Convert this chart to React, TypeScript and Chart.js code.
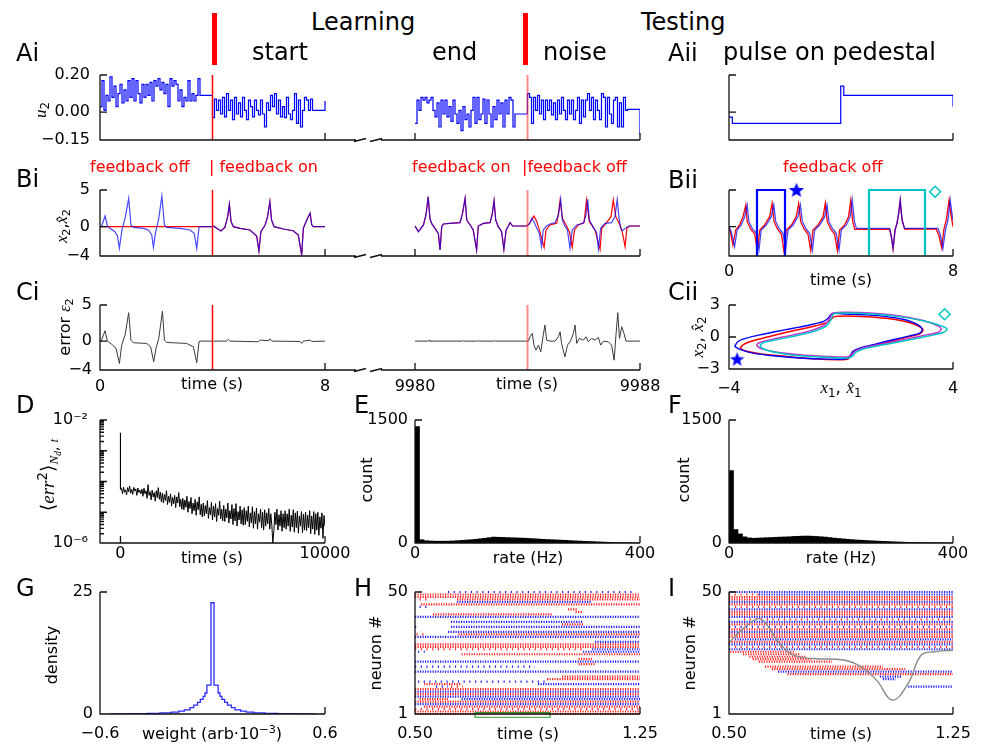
import React, { useEffect, useRef } from 'react';
import { Chart, registerables } from 'chart.js';

Chart.register(...registerables);

const SANS = "'DejaVu Sans', Verdana, sans-serif";
const SERIF = "'Liberation Serif', 'DejaVu Serif', serif";
const BLUE = '#0000ff';
const BLUE_T = 'rgba(0,0,255,0.72)';
const RED = '#ff0000';
const PINK = 'rgba(255,60,60,0.6)';
const CYAN = '#00c4c4';
const MAGENTA = '#c030d0';

// broken time axis: t=9980 s is drawn at 11.2 on the compressed axis
const GAP = 11.2;
const U2_DT = 0.0711;

// ---------------- Ai: u2 (piecewise constant input) ----------------
const u2LearnStartOff = [0.03, 0.17, 0.01, 0.09, 0.06, 0.19, 0.08, 0.14, 0.03, 0.1, 0.15, 0.05, 0.12, 0.06, 0.17, 0.08, 0.18, 0.06, 0.17, 0.1, 0.05, 0.15, 0.08, 0.15, 0.09, 0.16, 0.06, 0.17, 0.14, 0.18, 0.12, 0.16, 0.1, 0.15, 0.03, 0.18, 0.14, 0.17, 0.15, 0.06, 0.12, 0.03, 0.08, 0.06, 0.17, 0.06, 0.1, 0.06, 0.09, 0.18];
const u2LearnStartOn = [-0.03, 0.07, 0.01, 0.065, -0.01, 0.08, -0.025, 0.1, 0.01, 0.065, -0.04, 0.08, -0.01, 0.05, -0.025, 0.08, 0.01, -0.04, 0.065, 0.03, -0.025, 0.065, 0.01, -0.015, 0.065, -0.01, -0.08, 0.05, 0.01, 0.09, 0.03, 0.1, -0.01, 0.065, -0.025, 0.03, -0.03, 0.08, -0.01, -0.04, 0.01, 0.1, -0.06, 0.065, -0.08, 0.01, 0.08, 0.065, 0.01, 0.07];
const u2LearnEnd = [-0.06, 0.065, 0.01, 0.08, 0.065, 0.08, 0.05, 0.065, 0.08, 0.01, -0.025, 0.05, -0.08, 0.065, -0.01, 0.065, -0.025, 0.03, -0.05, 0.065, -0.01, -0.06, 0.01, -0.1, 0.03, -0.04, -0.01, -0.08, 0.01, 0.08, -0.06, 0.08, -0.04, -0.01, 0.07, -0.06, 0.065, -0.01, -0.08, 0.03, -0.04, 0.065, -0.01, 0.05, -0.08, 0.065, -0.01, 0.08, 0.065, -0.08];
const u2TestNoise = [0.1, 0.08, -0.06, 0.08, 0.01, 0.09, -0.01, 0.065, -0.04, 0.065, 0.01, 0.065, -0.015, 0.05, -0.04, 0.065, -0.01, 0.08, 0.01, -0.04, 0.065, -0.01, 0.065, -0.04, 0.01, 0.08, -0.06, 0.065, -0.025, 0.065, 0.1, 0.01, 0.08, -0.04, 0.065, 0.01, -0.04, 0.1, 0.08, -0.08, 0.08, -0.01, -0.06, 0.065, 0.08, -0.08, 0.05, -0.08, 0.08, 0.01];
// hold values after each noisy stretch: [holdStart, holdEnd, value]
const u2Holds = [
  [3.555, 4.0, 0.09],
  [7.555, 8.0, 0.01],
  [3.555, 4.0, -0.01],
  [7.555, 8.0, 0.015],
];
const u2EndValues = [0.06, -0.12];
// Aii: pulse on pedestal
const u2PedT = [0, 0.12, 3.99, 4.1, 8.0, 8.0];
const u2PedV = [-0.027, -0.06, 0.14, 0.09, 0.09, 0.03];

// ---------------- Bi: x2 (blue) and estimate (red) ----------------
const x2LearnStartOff = [[0, 0], [0.06, 0.09], [0.18, 1.45], [0.27, 0], [0.41, -0.36], [0.53, -0.68], [0.62, -1.27], [0.69, -2.95], [0.78, -0.45], [0.89, 1.14], [1.02, 3.86], [1.1, 0.23], [1.19, -0.09], [1.54, -0.23], [1.72, -0.45], [1.84, -1.14], [1.9, -2.82], [1.97, -0.91], [2.09, 1.14], [2.2, 4.18], [2.29, 0.23], [2.37, -0.09], [2.84, -0.23], [3.2, -0.45], [3.35, -0.91], [3.44, -2.95], [3.52, -0.09], [3.56, 0], [4.0, 0]];
const x2hatLearnStartOff = [[0, 0], [4.0, 0]];
const x2LearnStartOn = [[4.0, 0.05], [4.03, 0.09], [4.15, -0.23], [4.3, -0.59], [4.44, -0.09], [4.54, 1.36], [4.6, 3.05], [4.66, 0.68], [4.74, 0], [4.98, -0.23], [5.33, -0.45], [5.57, -1.27], [5.65, -3.32], [5.72, -0.68], [5.87, 0.23], [5.96, 1.36], [6.04, 3.41], [6.1, 0.91], [6.19, 0], [6.52, -0.32], [6.87, -0.55], [7.05, -1.14], [7.17, -3.86], [7.23, -0.23], [7.35, 0.91], [7.47, 1.82], [7.53, 0.23], [7.59, 0], [8.0, 0]];
// times below are seconds after 9980 s
const x2LearnEnd = [[0, 0.09], [0.12, -0.68], [0.3, 0.23], [0.39, 1.59], [0.47, 4.09], [0.53, 1.14], [0.59, 0.45], [0.71, -0.23], [0.83, -0.91], [0.89, -3.18], [0.95, 0], [1.01, 0.36], [1.24, 0.45], [1.6, 0.55], [1.69, 1.82], [1.78, 3.86], [1.84, 0.91], [1.96, 0.23], [2.07, -0.45], [2.19, -3.18], [2.25, 0.09], [2.43, 0.45], [2.67, 0.55], [2.75, 1.82], [2.81, 3.55], [2.87, 0.91], [2.96, 0], [3.08, -0.68], [3.16, -3.09], [3.24, -0.45], [3.32, 0.09], [3.38, 0.55], [3.47, 0.09], [3.97, 0.09]];
const x2TestNoise = [[3.97, 0.09], [4.07, 0.36], [4.15, 1.14], [4.23, 0.68], [4.33, -0.23], [4.42, -0.91], [4.5, -2.73], [4.56, -0.45], [4.68, 0.09], [4.8, 0.36], [4.98, 0.55], [5.1, 1.59], [5.18, 3.73], [5.24, 0.91], [5.33, 0.09], [5.42, -0.45], [5.51, -2.95], [5.59, -0.45], [5.75, 0.23], [5.99, 0.45], [6.08, 1.59], [6.14, 3.73], [6.2, 0.91], [6.34, -0.09], [6.46, -0.82], [6.52, -3.09], [6.6, -0.23], [6.76, 0.45], [6.99, 0.55], [7.11, 1.36], [7.19, 3.73], [7.25, 1.36], [7.31, -0.23], [7.38, -0.55], [7.47, -0.23], [7.59, 0.09], [8.0, 0.09]];
const x2hatTestNoise = [[3.97, 0.09], [4.07, 0.45], [4.23, 1.45], [4.33, 0.68], [4.44, -0.68], [4.59, -2.82], [4.66, -0.45], [4.8, 0.23], [5.04, 0.45], [5.1, 1.82], [5.16, 3.64], [5.24, 1.14], [5.37, 0.23], [5.49, -0.68], [5.59, -2.82], [5.67, -0.45], [5.81, 0.23], [6.01, 0.55], [6.1, 3.64], [6.2, 0.68], [6.4, -0.45], [6.58, -3.09], [6.64, -0.23], [6.81, 0.55], [6.97, 1.36], [7.05, 3.64], [7.14, 1.36], [7.29, 0.23], [7.38, -0.91], [7.47, -2.73], [7.53, -0.23], [7.64, 0.09], [8.0, 0.09]];

// ---------------- Ci: error e2 ----------------
const e2Start = [[0, 0], [0.04, 0], [0.18, 1.44], [0.26, 0], [0.41, -0.42], [0.57, -1.0], [0.69, -3.1], [0.77, -0.56], [0.89, 0.83], [1.02, 3.94], [1.1, 0.14], [1.19, -0.23], [1.66, -0.32], [1.8, -0.79], [1.91, -2.87], [1.99, -1.0], [2.09, 0.37], [2.22, 4.17], [2.29, 0.14], [2.37, -0.19], [3.08, -0.32], [3.32, -0.79], [3.44, -3.0], [3.52, -0.09], [3.56, 0], [4.03, 0], [4.5, 0], [4.56, 0.23], [4.62, 0], [5.63, -0.09], [5.69, 0.14], [5.99, 0.05], [6.04, 0.32], [6.1, 0], [7.11, -0.05], [7.17, -0.32], [7.23, 0], [7.47, 0.14], [7.53, -0.05], [8.0, 0]];
const e2End = [[0, 0], [0.47, 0], [0.5, 0.12], [0.53, 0], [1.7, 0], [1.73, 0.06], [1.76, 0], [2.2, 0], [2.23, 0.06], [2.26, 0], [2.8, 0], [2.83, 0.06], [2.86, 0], [3.97, 0], [4.03, 0], [4.09, 0.6], [4.17, 1.06], [4.23, -0.56], [4.3, -1.25], [4.39, -0.56], [4.47, -1.48], [4.56, 0.83], [4.62, 2.22], [4.68, 0.14], [4.8, 0], [4.98, 0], [5.1, 0.6], [5.16, 1.3], [5.21, -0.32], [5.33, -2.18], [5.42, -0.56], [5.53, 0], [5.63, 1.06], [5.69, 2.22], [5.75, -0.32], [5.84, 0.37], [5.99, 0.14], [6.08, 0.6], [6.16, -0.09], [6.28, 0.37], [6.4, 0.14], [6.52, 0.51], [6.6, -0.56], [6.7, 0], [6.87, -0.09], [6.99, -0.56], [7.08, -2.64], [7.15, 1.06], [7.21, 3.94], [7.27, 0.37], [7.35, 1.99], [7.43, 1.06], [7.5, 0], [8.0, 0]];

// ---------------- Bii: pulse on pedestal, feedback off ----------------
const x2Ped = [[0, 0], [0.08, -0.68], [0.2, -2.73], [0.29, -0.45], [0.44, 0.23], [0.56, 1.36], [0.65, 2.95], [0.71, 0.68], [0.83, -0.23], [0.98, -0.91], [1.07, -3.18], [1.15, -0.45], [1.33, 0.23], [1.51, 1.36], [1.6, 2.95], [1.67, 0.68], [1.79, -0.23], [1.93, -0.91], [2.02, -3.18], [2.11, -0.45], [2.29, 0.23], [2.46, 1.36], [2.55, 2.95], [2.62, 0.68], [2.74, -0.23], [2.88, -0.91], [2.98, -3.18], [3.06, -0.45], [3.24, 0.23], [3.42, 1.36], [3.5, 2.95], [3.57, 0.68], [3.69, -0.23], [3.83, -0.91], [3.93, -3.18], [4.01, -0.45], [4.19, 0.23], [4.33, 1.36], [4.4, 3.64], [4.48, 0.68], [4.55, -0.23], [5.74, -0.23], [5.8, -1.36], [5.86, -2.95], [5.93, -0.45], [6.0, 0.45], [6.06, 1.82], [6.12, 3.64], [6.18, 0.91], [6.27, -0.23], [7.46, -0.23], [7.55, -1.14], [7.64, -2.95], [7.73, -0.45], [7.82, 0.91], [7.9, 3.64], [7.96, 1.82], [8.0, 0.91]];
const x2hatPed = [[0, 0], [0.06, -0.91], [0.14, -2.5], [0.24, -0.45], [0.38, 0.23], [0.5, 1.36], [0.6, 2.95], [0.65, 0.68], [0.77, -0.32], [0.92, -1.0], [1.01, -3.27], [1.1, -0.45], [1.27, 0.23], [1.45, 1.36], [1.54, 3.18], [1.61, 0.68], [1.73, -0.32], [1.87, -1.0], [1.96, -3.27], [2.05, -0.45], [2.23, 0.23], [2.4, 1.36], [2.49, 3.18], [2.56, 0.68], [2.68, -0.32], [2.82, -1.0], [2.92, -3.27], [3.0, -0.45], [3.18, 0.23], [3.36, 1.36], [3.44, 3.18], [3.51, 0.68], [3.63, -0.32], [3.77, -1.0], [3.87, -3.27], [3.95, -0.45], [4.13, 0.23], [4.27, 1.36], [4.35, 3.64], [4.42, 0.68], [4.49, -0.36], [5.74, -0.36], [5.8, -1.45], [5.86, -3.05], [5.93, -0.45], [6.0, 0.45], [6.06, 1.82], [6.11, 3.55], [6.18, 0.91], [6.27, -0.32], [7.4, -0.32], [7.5, -1.27], [7.6, -2.95], [7.67, -0.45], [7.76, 0.91], [7.86, 3.64], [7.92, 1.82], [8.0, 0]];
const pedWindowStar = [1.0, 2.0];
const pedWindowDiamond = [5.0, 7.0];
const starMarkB = [2.41, 5.0];
const diamondMarkB = [7.36, 4.77];

// ---------------- Cii: phase plane loops ----------------
const loopBlue = [[-3.8, -0.89], [-3.68, -0.42], [-3.38, -0.11], [-2.9, 0.2], [-2.31, 0.51], [-1.71, 0.82], [-1.12, 1.13], [-0.64, 1.45], [-0.46, 1.76], [-0.35, 2.13], [-0.23, 2.22], [0.19, 2.16], [0.9, 2.07], [1.62, 1.91], [2.21, 1.66], [2.69, 1.23], [2.9, 0.73], [2.81, 0.36], [2.45, 0.11], [1.86, -0.26], [1.26, -0.64], [0.67, -1.04], [0.43, -1.35], [0.31, -1.82], [0.19, -2.04], [-0.52, -2.07], [-1.48, -1.97], [-2.43, -1.76], [-3.14, -1.51], [-3.56, -1.2], [-3.8, -0.89]];
const loopRed = [[-3.6, -1.04], [-3.5, -0.73], [-3.14, -0.36], [-2.55, 0.05], [-1.71, 0.58], [-1.0, 0.98], [-0.52, 1.35], [-0.35, 1.66], [-0.23, 1.91], [0.19, 1.97], [0.9, 1.91], [1.62, 1.76], [2.21, 1.51], [2.69, 1.13], [2.93, 0.67], [2.81, 0.3], [2.45, 0.05], [1.86, -0.36], [1.14, -0.79], [0.55, -1.2], [0.37, -1.66], [0.25, -2.07], [-0.05, -2.13], [-1.0, -2.04], [-1.95, -1.82], [-2.9, -1.57], [-3.44, -1.29], [-3.6, -1.04]];
const loopMagenta = [[-3.02, -0.73], [-2.9, -0.51], [-2.43, -0.2], [-1.71, 0.2], [-1.0, 0.67], [-0.58, 1.13], [-0.4, 1.76], [-0.29, 2.22], [0.19, 2.32], [1.14, 2.22], [2.1, 1.97], [2.93, 1.54], [3.46, 1.04], [3.58, 0.73], [3.46, 0.42], [3.05, 0.2], [2.33, -0.2], [1.5, -0.64], [0.79, -1.04], [0.49, -1.35], [0.33, -1.76], [0.19, -1.88], [-0.52, -1.82], [-1.48, -1.66], [-2.43, -1.35], [-2.9, -1.04], [-3.02, -0.73]];
const loopCyan = [[-2.9, -0.79], [-2.76, -0.51], [-2.31, -0.26], [-1.6, 0.11], [-0.88, 0.61], [-0.52, 1.04], [-0.35, 1.66], [-0.26, 2.16], [0.19, 2.25], [1.14, 2.16], [2.1, 1.91], [3.05, 1.45], [3.58, 1.04], [3.79, 0.73], [3.64, 0.42], [3.17, 0.11], [2.33, -0.33], [1.5, -0.73], [0.79, -1.13], [0.52, -1.45], [0.4, -1.82], [0.25, -1.97], [-0.52, -1.91], [-1.48, -1.76], [-2.31, -1.45], [-2.79, -1.1], [-2.9, -0.79]];
const starMarkC = [-3.71, -2.07];
const diamondMarkC = [3.7, 2.13];

// ---------------- D: mean squared error, log10 values, one every 50 s ----------------
const errSpike = [[0, -2.42], [0, -4.25]];
const errStep = 50;
const errLog = [
  -4.22, -4.40, -4.18, -4.35, -4.27, -4.44, -4.20, -4.33, -4.15, -4.38, -4.26, -4.42, -4.19, -4.31, -4.24, -4.45, -4.21, -4.36, -4.28, -4.40,
  -4.25, -4.48, -4.22, -4.40, -4.30, -4.55, -4.10, -4.45, -4.33, -4.60, -4.28, -4.50, -4.36, -4.64, -4.30, -4.52, -4.20, -4.58, -4.35, -4.66,
  -4.38, -4.70, -4.42, -4.62, -4.30, -4.75, -4.48, -4.68, -4.40, -4.80, -4.52, -4.72, -4.45, -4.85, -4.50, -4.70, -4.36, -4.82, -4.58, -4.90,
  -4.55, -4.92, -4.60, -4.84, -4.48, -5.00, -4.65, -4.88, -4.52, -5.05, -4.70, -4.95, -4.58, -5.10, -4.66, -4.92, -4.50, -5.08, -4.74, -5.15,
  -4.70, -5.12, -4.78, -5.05, -4.62, -5.20, -4.85, -5.08, -4.68, -5.25, -4.80, -5.15, -4.72, -5.30, -4.88, -5.10, -4.64, -5.22, -4.90, -5.28,
  -4.78, -5.30, -4.90, -5.18, -4.70, -5.35, -4.95, -5.22, -4.75, -5.40, -4.88, -5.28, -4.72, -5.45, -4.98, -5.25, -4.80, -5.38, -4.92, -5.42,
  -4.85, -5.40, -4.95, -5.30, -4.80, -5.48, -5.02, -5.35, -4.82, -5.52, -4.98, -5.38, -4.86, -5.55, -5.05, -5.32, -4.90, -5.50, -5.00, -5.58,
  -4.92, -5.45, -5.02, -5.38, -4.88, -5.55, -5.05, -5.42, -6.00, -5.60, -5.00, -5.40, -4.90, -5.58, -5.08, -5.45, -4.95, -5.62, -5.05, -5.50,
  -4.95, -5.55, -5.05, -5.45, -4.90, -5.62, -5.10, -5.48, -4.92, -5.65, -5.02, -5.50, -4.96, -5.68, -5.12, -5.45, -4.98, -5.66, -5.06, -5.58,
  -5.00, -5.60, -5.10, -5.50, -4.95, -5.70, -5.12, -5.55, -4.98, -5.72, -5.05, -5.58, -5.00, -5.75, -5.15, -5.52, -5.02, -5.85, -5.10, -5.45,
];

// ---------------- E, F: firing-rate histograms (8 Hz bins) ----------------
const rateBinCenters = [4, 12, 20, 28, 36, 44, 52, 60, 68, 76, 84, 92, 100, 108, 116, 124, 132, 140, 148, 156, 164, 172, 180, 188, 196, 204, 212, 220, 228, 236, 244, 252, 260, 268, 276, 284, 292, 300, 308, 316, 324, 332, 340, 348, 356, 364, 372, 380, 388, 396];
const rateCountsLearn = [1420, 40, 28, 24, 22, 22, 22, 23, 25, 28, 32, 36, 40, 45, 52, 58, 65, 72, 70, 68, 66, 64, 62, 60, 58, 55, 52, 48, 45, 42, 40, 37, 35, 32, 29, 26, 24, 21, 19, 17, 14, 12, 10, 8, 6, 5, 4, 3, 2, 1];
const rateCountsTest = [883, 164, 111, 75, 62, 58, 60, 62, 65, 67, 70, 72, 74, 76, 80, 82, 84, 85, 83, 80, 76, 72, 66, 60, 55, 50, 45, 41, 37, 34, 31, 28, 25, 22, 20, 18, 15, 13, 11, 9, 7, 6, 5, 4, 3, 2, 2, 1, 1, 0];

// ---------------- G: weight density (step histogram) ----------------
const weightEdges = [-0.55, -0.45, -0.35, -0.28, -0.22, -0.18, -0.15, -0.12, -0.1, -0.08, -0.065, -0.05, -0.04, -0.03, -0.008, 0.008, 0.03, 0.04, 0.05, 0.065, 0.08, 0.1, 0.12, 0.15, 0.18, 0.22, 0.28, 0.35, 0.45, 0.55];
const weightDensity = [0.03, 0.06, 0.12, 0.25, 0.4, 0.6, 0.85, 1.3, 1.8, 2.4, 3.0, 3.6, 4.3, 5.9, 22.8, 5.9, 4.3, 3.6, 3.0, 2.4, 1.8, 1.3, 0.85, 0.6, 0.4, 0.25, 0.12, 0.06, 0.03, 0.03];

// ---------------- H, I: spike rasters [neuron, tStart, tEnd, blue?, dense?] ----------------
const rasterLearn = [
  [50, 0.61, 1.23, 1, 0], [49, 0.5, 1.25, 0, 1], [48, 0.5, 1.25, 0, 1], [47, 0.515, 0.54, 0, 0], [47, 0.64, 1.25, 0, 1],
  [46, 0.64, 1.09, 1, 1], [45, 0.52, 1.25, 0, 1], [44, 0.515, 0.54, 1, 0], [43, 1.01, 1.04, 0, 1], [42, 1.035, 1.06, 0, 1],
  [41, 0.56, 0.96, 0, 1], [40, 0.5, 1.25, 1, 1], [38, 0.62, 1.06, 1, 1], [37, 0.99, 1.06, 0, 1], [36, 0.5, 0.515, 1, 0],
  [36, 0.62, 1.25, 1, 1], [34, 0.61, 1.25, 1, 1], [33, 0.505, 0.535, 0, 0], [33, 0.645, 1.25, 0, 1], [32, 0.5, 1.25, 1, 1],
  [30, 1.1, 1.25, 1, 1], [29, 0.5, 1.25, 0, 1], [28, 0.5, 1.25, 0, 1], [27, 0.5, 1.06, 0, 0], [27, 1.09, 1.25, 1, 1],
  [26, 0.51, 0.535, 1, 0], [26, 1.06, 1.25, 1, 1], [25, 0.655, 1.25, 0, 1], [23, 1.045, 1.09, 0, 1], [22, 0.5, 1.25, 1, 1],
  [21, 1.045, 1.1, 0, 1], [20, 0.5, 0.9, 1, 0], [18, 0.5, 1.25, 1, 1], [16, 0.99, 1.25, 0, 1], [15, 0.94, 1.25, 0, 1],
  [14, 0.51, 0.94, 1, 0], [13, 0.53, 0.655, 0, 1], [13, 0.91, 1.25, 1, 1], [12, 0.57, 0.61, 1, 0], [12, 0.62, 0.66, 0, 0],
  [11, 0.5, 1.25, 0, 1], [10, 0.5, 1.25, 1, 1], [9, 0.5, 1.25, 0, 1], [8, 0.5, 1.25, 1, 1], [7, 0.515, 0.61, 0, 1],
  [7, 0.655, 1.25, 1, 1], [6, 0.5, 1.25, 0, 1], [5, 0.5, 1.25, 1, 1], [4, 0.53, 1.25, 0, 1], [3, 0.5, 1.25, 0, 0],
  [2, 0.5, 1.25, 0, 1], [1, 0.5, 1.25, 0, 1],
];
const rasterTest = [
  [50, 0.5, 1.25, 1, 1], [49, 0.5, 0.6, 0, 0], [49, 0.6, 1.25, 1, 1], [48, 0.5, 1.25, 0, 1], [47, 0.5, 1.25, 0, 1],
  [46, 0.5, 1.25, 1, 1], [45, 0.5, 1.25, 0, 1], [44, 0.52, 1.25, 0, 0], [43, 0.5, 1.25, 1, 1], [42, 0.5, 1.25, 0, 1],
  [41, 0.5, 1.25, 0, 1], [40, 0.5, 1.25, 1, 1], [39, 0.55, 1.25, 0, 0], [38, 0.5, 1.25, 1, 1], [37, 0.5, 1.25, 0, 1],
  [36, 0.5, 1.25, 1, 0], [35, 0.5, 1.25, 0, 1], [34, 0.5, 1.25, 1, 1], [33, 0.5, 1.25, 0, 1], [32, 0.5, 1.25, 0, 1],
  [31, 0.52, 1.25, 1, 1], [30, 0.5, 1.25, 0, 1], [29, 0.5, 1.25, 1, 1], [28, 0.52, 1.25, 0, 0], [27, 0.5, 1.25, 1, 1],
  [26, 0.504, 0.717, 0, 1], [25, 0.547, 0.74, 0, 1], [24, 0.568, 0.76, 0, 1], [23, 0.579, 0.78, 0, 1], [22, 0.6, 0.845, 0, 1],
  [20, 0.62, 1.015, 0, 1], [19, 0.643, 1.09, 0, 1], [18, 0.664, 1.25, 1, 1], [17, 0.696, 1.25, 0, 1], [16, 1.005, 1.08, 1, 1],
  [15, 1.015, 1.058, 1, 1], [12, 1.1, 1.25, 1, 1],
];
// I: test input overlaid (gray), in raster coordinates
const inputOverlay = [[0.504, 30.0], [0.547, 35.3], [0.6, 39.3], [0.632, 36.0], [0.664, 30.0], [0.717, 24.6], [0.781, 23.3], [0.888, 22.6], [0.941, 20.0], [0.994, 14.6], [1.047, 6.6], [1.1, 13.3], [1.143, 24.6], [1.186, 26.0], [1.25, 26.6]];
const zoomWindow = [0.7, 0.95, -0.3, 1.6];

// ================= helpers =================
const P = (arr: number[][], off = 0) => arr.map(([x, y]) => ({ x: x + off, y }));
const stepPts = (t0: number, vals: number[], off = 0) => vals.map((v, i) => ({ x: off + t0 + i * U2_DT, y: v }));
const ln = (data: any[], color: string, w = 1.2, extra: any = {}) => ({
  data, showLine: true, borderColor: color, backgroundColor: color, borderWidth: w,
  pointRadius: 0, pointHoverRadius: 0, tension: 0, fill: false, ...extra,
});
const vline = (x: number, y0: number, y1: number, color: string, w: number) => ln([{ x, y: y0 }, { x, y: y1 }], color, w, { order: -1 });

function starImage(size: number, color: string) {
  const c = document.createElement('canvas');
  c.width = size; c.height = size;
  const g = c.getContext('2d')!;
  g.fillStyle = color;
  g.beginPath();
  for (let i = 0; i < 10; i++) {
    const a = -Math.PI / 2 + (i * Math.PI) / 5;
    const rr = i % 2 === 0 ? size / 2 : size / 4.6;
    g.lineTo(size / 2 + rr * Math.cos(a), size / 2 + rr * Math.sin(a) + size * 0.04);
  }
  g.closePath();
  g.fill();
  return c;
}
const marker = (pt: number[], style: any, color: string, r: number) => ({
  data: [{ x: pt[0], y: pt[1] }], showLine: false, pointStyle: style, pointRadius: r,
  borderColor: color, backgroundColor: style === 'rectRot' ? 'rgba(255,255,255,0)' : color,
  pointBorderWidth: 1.5, clip: false, order: -2,
});
const rasterSets = (rows: number[][]) => rows.map(([n, a, b, blue, dense]) =>
  ln([{ x: a, y: n }, { x: b, y: n }], blue ? '#2222ff' : '#ff2222', 2.2, { borderDash: dense ? [1.2, 1.3] : [1.2, 4.5], clip: false }));

type Axis = { min: number; max: number; ticks: number[]; labels?: string[]; deco?: number[]; minor?: number[]; log?: boolean; pad?: number };
type PanelDef = { rect: number[]; x: Axis; y: Axis; datasets: () => any[]; type?: string; brk?: boolean };

const brokenTicks = [0, 8, GAP, GAP + 8];
const xBroken = (labels: boolean): Axis => ({ min: 0, max: GAP + 8, ticks: brokenTicks, labels: labels ? ['0', '8', '9980', '9988'] : undefined, deco: [8, GAP, GAP + 8], pad: 7 });
const xPed = (labels: boolean, pad = 6): Axis => ({ min: 0, max: 8, ticks: [0, 8], labels: labels ? ['0', '8'] : undefined, deco: [8], pad });
const yX2 = (labels: boolean, pad = 10): Axis => ({ min: -4, max: 5, ticks: [-4, 0, 5], labels: labels ? ['−4', '0', '5'] : undefined, deco: [0, 5], pad });

const minorLog: number[] = [];
for (let e = -6; e < -2; e++) for (let k = 2; k <= 9; k++) minorLog.push(k * Math.pow(10, e));

const u2Series = (a: number[], b: number[], h1: number[], h2: number[], endV: number, off: number) => [
  ...stepPts(0, a, off), { x: off + h1[0], y: h1[2] }, { x: off + h1[1], y: h1[2] },
  ...stepPts(4, b, off), { x: off + h2[0], y: h2[2] }, { x: off + h2[1], y: h2[2] }, { x: off + h2[1], y: endV },
];

const panels: PanelDef[] = [
  // Ai
  {
    rect: [100, 75, 640, 140], brk: true,
    x: xBroken(false),
    y: { min: -0.15, max: 0.2, ticks: [-0.15, 0, 0.2], labels: ['−0.15', '0.00', '0.20'], deco: [0, 0.2], pad: 10 },
    datasets: () => [
      ln(u2Series(u2LearnStartOff, u2LearnStartOn, u2Holds[0], u2Holds[1], u2EndValues[0], 0), BLUE, 1.2, { stepped: 'before' }),
      ln(u2Series(u2LearnEnd, u2TestNoise, u2Holds[2], u2Holds[3], u2EndValues[1], GAP), BLUE, 1.2, { stepped: 'before' }),
      vline(4, -0.15, 0.2, RED, 1.5),
      vline(GAP + 4, -0.15, 0.2, PINK, 2),
    ],
  },
  // Aii
  {
    rect: [729, 75, 953, 140],
    x: xPed(false),
    y: { min: -0.15, max: 0.2, ticks: [-0.15, 0, 0.2], deco: [0, 0.2] },
    datasets: () => [ln(u2PedT.map((t, i) => ({ x: t, y: u2PedV[i] })), BLUE, 1.2, { stepped: 'before' })],
  },
  // Bi
  {
    rect: [100, 190, 640, 256], brk: true,
    x: xBroken(false), y: yX2(true, 10),
    datasets: () => [
      ln([...P(x2LearnStartOff), ...P(x2LearnStartOn)], BLUE_T, 1.2, { order: 0 }),
      ln([...P(x2hatLearnStartOff), ...P(x2LearnStartOn)], RED, 1.2, { order: 1 }),
      ln([...P(x2LearnEnd, GAP), ...P(x2TestNoise, GAP)], BLUE_T, 1.2, { order: 0 }),
      ln([...P(x2LearnEnd, GAP), ...P(x2hatTestNoise, GAP)], RED, 1.2, { order: 1 }),
      vline(4, -4, 5, RED, 1.5),
      vline(GAP + 4, -4, 5, PINK, 2),
    ],
  },
  // Bii
  {
    rect: [729, 190, 953, 256],
    x: xPed(true, 6), y: yX2(false),
    datasets: () => [
      ln(P(x2Ped), BLUE_T, 1.3, { order: 0 }),
      ln(P(x2hatPed), RED, 1.3, { order: 1 }),
      ln([{ x: pedWindowStar[0], y: -4 }, { x: pedWindowStar[0], y: 5 }, { x: pedWindowStar[1], y: 5 }, { x: pedWindowStar[1], y: -4 }], BLUE, 2.2, { clip: false, order: -1 }),
      ln([{ x: pedWindowDiamond[0], y: -4 }, { x: pedWindowDiamond[0], y: 5 }, { x: pedWindowDiamond[1], y: 5 }, { x: pedWindowDiamond[1], y: -4 }], CYAN, 2.2, { clip: false, order: -1 }),
      marker(starMarkB, starImage(16, BLUE), BLUE, 8),
      marker(diamondMarkB, 'rectRot', CYAN, 5.5),
    ],
  },
  // Ci
  {
    rect: [100, 305, 640, 370], brk: true,
    x: xBroken(true), y: yX2(true, 8),
    datasets: () => [
      ln(P(e2Start), '#3a3a3a', 1.0),
      ln(P(e2End, GAP), '#3a3a3a', 1.0),
      vline(4, -4, 5, RED, 1.5),
      vline(GAP + 4, -4, 5, PINK, 2),
    ],
  },
  // Cii
  {
    rect: [729, 305, 953, 369],
    x: { min: -4, max: 4, ticks: [-4, 4], labels: ['−4', '4'], deco: [4], pad: 10 },
    y: { min: -3, max: 3, ticks: [-3, 0, 3], labels: ['−3', '0', '3'], deco: [0, 3], pad: 9 },
    datasets: () => [
      ln(P(loopCyan), CYAN, 1.5, { tension: 0.3 }),
      ln(P(loopMagenta), MAGENTA, 1.5, { tension: 0.3 }),
      ln(P(loopBlue), BLUE, 1.4, { tension: 0.3 }),
      ln(P(loopRed), RED, 1.5, { tension: 0.3 }),
      marker(starMarkC, starImage(15, BLUE), BLUE, 8),
      marker(diamondMarkC, 'rectRot', CYAN, 5.5),
    ],
  },
  // D
  {
    rect: [100, 420, 325, 543],
    x: { min: -1000, max: 10000, ticks: [0, 10000], labels: ['0', '10000'], deco: [0, 10000], pad: 1 },
    y: { log: true, min: 1e-6, max: 1e-2, ticks: [1e-6, 1e-2], labels: ['10⁻⁶', '10⁻²'], deco: [1e-6, 1e-5, 1e-4, 1e-3, 1e-2], minor: minorLog, pad: 12 },
    datasets: () => [ln([
      ...errSpike.map(([t, v]) => ({ x: t, y: Math.pow(10, v) })),
      ...errLog.map((v, i) => ({ x: (i + 1) * errStep, y: Math.pow(10, v) })),
    ], '#000', 1.0)],
  },
  // E
  {
    rect: [415, 420, 640, 543], type: 'bar',
    x: { min: 0, max: 400, ticks: [0, 400], labels: ['0', '400'], deco: [400], pad: 1 },
    y: { min: 0, max: 1500, ticks: [0, 1500], labels: ['0', '1500'], deco: [1500], pad: 7 },
    datasets: () => [{ data: rateBinCenters.map((c, i) => ({ x: c, y: rateCountsLearn[i] })), backgroundColor: '#000', borderWidth: 0, barPercentage: 1, categoryPercentage: 1 }],
  },
  // F
  {
    rect: [729, 420, 953, 543], type: 'bar',
    x: { min: 0, max: 400, ticks: [0, 400], labels: ['0', '400'], deco: [400], pad: 1 },
    y: { min: 0, max: 1500, ticks: [0, 1500], labels: ['0', '1500'], deco: [1500], pad: 7 },
    datasets: () => [{ data: rateBinCenters.map((c, i) => ({ x: c, y: rateCountsTest[i] })), backgroundColor: '#000', borderWidth: 0, barPercentage: 1, categoryPercentage: 1 }],
  },
  // G
  {
    rect: [100, 592, 325, 714],
    x: { min: -0.6, max: 0.6, ticks: [-0.6, 0.6], labels: ['−0.6', '0.6'], deco: [0.6], pad: 10 },
    y: { min: 0, max: 25, ticks: [0, 25], labels: ['0', '25'], deco: [25], pad: 7 },
    datasets: () => [ln(weightEdges.map((w, i) => ({ x: w, y: weightDensity[i] })), '#2a2aff', 1.3, { stepped: 'before' })],
  },
  // H
  {
    rect: [415, 592, 640, 714],
    x: { min: 0.5, max: 1.25, ticks: [0.5, 1.25], labels: ['0.50', '1.25'], deco: [1.25], pad: 10 },
    y: { min: 1, max: 50, ticks: [1, 50], labels: ['1', '50'], deco: [50], pad: 7 },
    datasets: () => [
      ...rasterSets(rasterLearn),
      ln([{ x: zoomWindow[0], y: zoomWindow[3] }, { x: zoomWindow[1], y: zoomWindow[3] }, { x: zoomWindow[1], y: zoomWindow[2] }, { x: zoomWindow[0], y: zoomWindow[2] }, { x: zoomWindow[0], y: zoomWindow[3] }], '#2e9a2e', 1.2, { clip: false, order: -1 }),
    ],
  },
  // I
  {
    rect: [729, 592, 953, 714],
    x: { min: 0.5, max: 1.25, ticks: [0.5, 1.25], labels: ['0.50', '1.25'], deco: [1.25], pad: 10 },
    y: { min: 1, max: 50, ticks: [1, 50], labels: ['1', '50'], deco: [50], pad: 7 },
    datasets: () => [
      ...rasterSets(rasterTest),
      ln(P(inputOverlay), '#8a8a8a', 1.4, { tension: 0.4, order: -1 }),
    ],
  },
];

function Panel({ def }: { def: PanelDef }) {
  const ref = useRef<HTMLCanvasElement | null>(null);
  const [l, t, r, b] = def.rect;
  const AXL = 72, AXB = 34, PT = 14, PR = 32;
  const W = r - l + AXL + PR;
  const H = b - t + PT + AXB;
  useEffect(() => {
    const canvas = ref.current;
    if (!canvas) return;
    const mkScale = (a: Axis, horizontal: boolean) => ({
      type: a.log ? 'logarithmic' : 'linear',
      min: a.min, max: a.max, offset: false,
      grid: { display: false, drawTicks: false },
      border: { display: false },
      afterBuildTicks: (s: any) => { s.ticks = a.ticks.map((v) => ({ value: v })); },
      afterFit: (s: any) => {
        if (horizontal) s.height = AXB; else s.width = AXL;
        s.paddingLeft = 0; s.paddingRight = 0; s.paddingTop = 0; s.paddingBottom = 0;
      },
      ticks: {
        display: !!a.labels, autoSkip: false, maxRotation: 0, minRotation: 0,
        padding: a.pad ?? 7, color: '#000', font: { family: SANS, size: 16 },
        callback: (_v: any, i: number) => (a.labels ? a.labels[i] : ''),
      },
    });
    const deco = {
      id: 'deco',
      afterDatasetsDraw(chart: any) {
        const { ctx, chartArea: ca, scales } = chart;
        const xs = scales.x, ys = scales.y;
        ctx.save();
        ctx.strokeStyle = '#111';
        ctx.lineWidth = 1.3;
        ctx.beginPath();
        ctx.moveTo(ca.left, ca.top); ctx.lineTo(ca.left, ca.bottom + 0.6);
        if (def.brk) {
          const x8 = xs.getPixelForValue(8);
          ctx.moveTo(ca.left, ca.bottom); ctx.lineTo(x8 + 31, ca.bottom);
          ctx.moveTo(x8 + 29, ca.bottom + 1.5); ctx.lineTo(x8 + 41, ca.bottom - 1.5);
          ctx.moveTo(x8 + 45, ca.bottom + 1.5); ctx.lineTo(x8 + 57, ca.bottom - 1.5);
          ctx.moveTo(x8 + 56, ca.bottom); ctx.lineTo(ca.right, ca.bottom);
        } else {
          ctx.moveTo(ca.left, ca.bottom); ctx.lineTo(ca.right, ca.bottom);
        }
        for (const v of def.x.deco ?? []) { const px = xs.getPixelForValue(v); ctx.moveTo(px, ca.bottom); ctx.lineTo(px, ca.bottom - 7); }
        for (const v of def.y.deco ?? []) { const py = ys.getPixelForValue(v); ctx.moveTo(ca.left, py); ctx.lineTo(ca.left + 7, py); }
        for (const v of def.y.minor ?? []) { const py = ys.getPixelForValue(v); ctx.moveTo(ca.left, py); ctx.lineTo(ca.left + 4, py); }
        ctx.stroke();
        ctx.restore();
      },
    };
    const chart = new Chart(canvas, {
      type: (def.type ?? 'scatter') as any,
      data: { datasets: def.datasets() },
      options: {
        animation: false, responsive: false, maintainAspectRatio: false, events: [],
        layout: { padding: { top: PT, right: PR, left: 0, bottom: 0 } },
        plugins: { legend: { display: false }, tooltip: { enabled: false } },
        scales: { x: mkScale(def.x, true) as any, y: mkScale(def.y, false) as any },
      },
      plugins: [deco],
    } as any);
    return () => chart.destroy();
  }, []);
  return <canvas ref={ref} width={W} height={H} style={{ position: 'absolute', left: l - AXL, top: t - PT, width: W, height: H }} />;
}

function Txt({ x, y, children, size = 16, color = '#000', align = 'left', font = SANS }: any) {
  const tx = align === 'center' ? '-50%' : align === 'right' ? '-100%' : '0';
  return (
    <div style={{ position: 'absolute', left: x, top: y - 0.846 * size, fontFamily: font, fontSize: size, lineHeight: 1, color, whiteSpace: 'nowrap', transform: `translateX(${tx})` }}>
      {children}
    </div>
  );
}
function VTxt({ x, y, children, size = 16, font = SANS }: any) {
  return (
    <div style={{ position: 'absolute', left: x, top: y, fontFamily: font, fontSize: size, lineHeight: 1, whiteSpace: 'nowrap', transform: 'translate(-50%,-50%) rotate(-90deg)' }}>
      {children}
    </div>
  );
}
const It = ({ children }: any) => <span style={{ fontFamily: SERIF, fontStyle: 'italic' }}>{children}</span>;
const Sub = ({ children }: any) => <span style={{ fontSize: '0.7em', verticalAlign: '-0.3em', lineHeight: 0 }}>{children}</span>;
const Sup = ({ children }: any) => <span style={{ fontSize: '0.7em', verticalAlign: '0.5em', lineHeight: 0 }}>{children}</span>;

export default function App() {
  const big = 24;
  return (
    <div style={{ position: 'absolute', left: 0, top: 0, width: 1004, height: 753, overflow: 'hidden', background: '#fff', fontFamily: SANS }}>
      {panels.map((p, i) => <Panel key={i} def={p} />)}

      {/* headings */}
      <Txt x={311} y={30} size={big}>Learning</Txt>
      <Txt x={641} y={30} size={big}>Testing</Txt>
      <div style={{ position: 'absolute', left: 212, top: 13, width: 4.5, height: 52, background: RED }} />
      <div style={{ position: 'absolute', left: 523, top: 13, width: 4.5, height: 52, background: RED }} />
      <Txt x={16} y={61} size={big}>Ai</Txt>
      <Txt x={252} y={60} size={big}>start</Txt>
      <Txt x={432} y={60} size={big}>end</Txt>
      <Txt x={543} y={60} size={big}>noise</Txt>
      <Txt x={668} y={61} size={big}>Aii</Txt>
      <Txt x={723} y={60} size={big}>pulse on pedestal</Txt>

      <Txt x={16} y={187} size={big}>Bi</Txt>
      <Txt x={668} y={188} size={big}>Bii</Txt>
      <Txt x={90} y={173} color={RED}>feedback off</Txt>
      <Txt x={209} y={173} color={RED}>| feedback on</Txt>
      <Txt x={412} y={173} color={RED}>feedback on</Txt>
      <Txt x={522} y={173} color={RED}>|feedback off</Txt>
      <Txt x={783} y={173} color={RED}>feedback off</Txt>
      <Txt x={841} y={286} align="center">time (s)</Txt>

      <Txt x={16} y={300} size={big}>Ci</Txt>
      <Txt x={668} y={300} size={big}>Cii</Txt>
      <Txt x={212} y={390} align="center">time (s)</Txt>
      <Txt x={527} y={390} align="center">time (s)</Txt>
      <Txt x={841} y={393} align="center" size={17}><It>x</It><Sub>1</Sub>, <It>x̂</It><Sub>1</Sub></Txt>

      <Txt x={16} y={413} size={big}>D</Txt>
      <Txt x={354} y={413} size={big}>E</Txt>
      <Txt x={668} y={413} size={big}>F</Txt>
      <Txt x={212} y={564} align="center">time (s)</Txt>
      <Txt x={528} y={564} align="center">rate (Hz)</Txt>
      <Txt x={841} y={564} align="center">rate (Hz)</Txt>

      <Txt x={16} y={596} size={big}>G</Txt>
      <Txt x={354} y={596} size={big}>H</Txt>
      <Txt x={668} y={596} size={big}>I</Txt>
      <Txt x={212} y={740} align="center">weight (arb·10<Sup>−3</Sup>)</Txt>
      <Txt x={528} y={740} align="center">time (s)</Txt>
      <Txt x={841} y={740} align="center">time (s)</Txt>

      {/* rotated axis titles */}
      <VTxt x={40} y={110} size={17}><It>u</It><Sub>2</Sub></VTxt>
      <VTxt x={62} y={226} size={16}><It>x</It><Sub>2</Sub>,<It>x̂</It><Sub>2</Sub></VTxt>
      <VTxt x={65} y={327} size={16}>error <It>ε</It><Sub>2</Sub></VTxt>
      <VTxt x={697} y={337} size={17}><It>x</It><Sub>2</Sub>, <It>x̂</It><Sub>2</Sub></VTxt>
      <VTxt x={48} y={475} size={19}>⟨<It>err</It><Sup>2</Sup>⟩<Sub><It>N</It><Sub><It>d</It></Sub>, <It>t</It></Sub></VTxt>
      <VTxt x={367} y={480} size={16}>count</VTxt>
      <VTxt x={684} y={480} size={16}>count</VTxt>
      <VTxt x={52} y={655} size={16}>density</VTxt>
      <VTxt x={376} y={653} size={16}>neuron #</VTxt>
      <VTxt x={690} y={653} size={16}>neuron #</VTxt>
    </div>
  );
}
